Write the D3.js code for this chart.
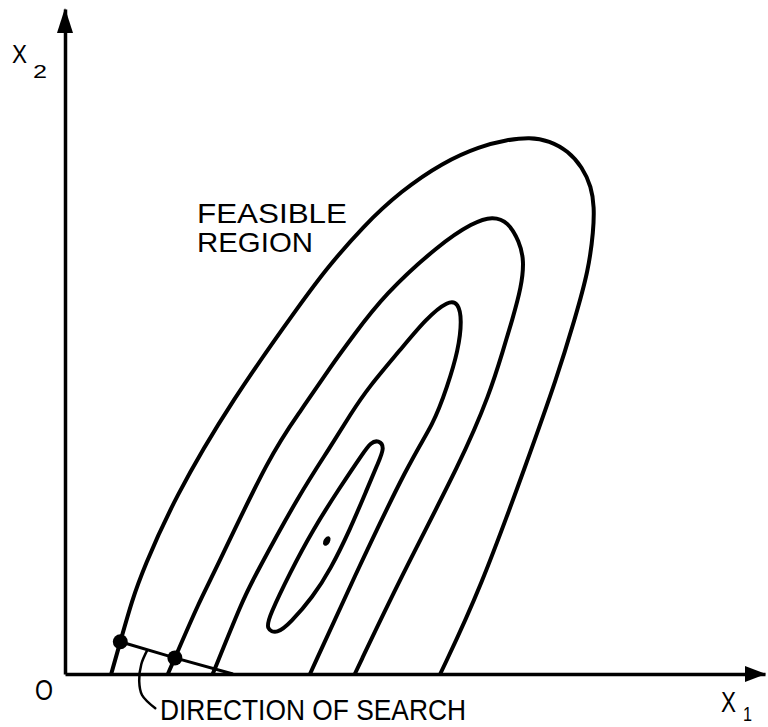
<!DOCTYPE html>
<html>
<head>
<meta charset="utf-8">
<script src="https://cdn.jsdelivr.net/npm/d3@7"></script>
<style>
  html, body { margin: 0; padding: 0; background: #fff; }
  svg { display: block; }
  text { font-family: "Liberation Sans", Arial, sans-serif; fill: #000; }
</style>
</head>
<body>
<svg id="chart" width="768" height="727"></svg>
<script>
// Design space x1 (horizontal) and x2 (vertical), arbitrary units.
const xDomain = [0, 100];
const yDomain = [0, 95];

// Objective contours, outermost (feasible region boundary) inward.
// Open contours run from their left foot on the x1 axis to the right foot.
const contourOuter = [
  [6.6, 0], [7.9, 4.6], [9.6, 10.6], [11.2, 15.0], [15.5, 24.9], [23.8, 39.1],
  [34.0, 53.4], [37.2, 57.7], [42.6, 64.0], [48.0, 69.0], [54.0, 73.1], [59.3, 75.4],
  [63.1, 76.3], [66.4, 76.7], [69.2, 76.2], [71.9, 74.7], [73.9, 72.4],
  [75.2, 69.6], [75.6, 66.7], [75.5, 63.4], [74.8, 57.7], [72.8, 50.6],
  [70.3, 42.4], [66.1, 30.6], [59.3, 12.0], [53.6, 0]
];
const contourSecond = [
  [14.7, 0], [15.7, 2.3], [19.3, 10.6], [21.1, 14.0], [29.4, 31.6], [33.7, 37.6],
  [38.0, 44.0], [41.1, 48.2], [45.6, 54.2], [53.5, 61.4], [58.3, 64.5],
  [61.1, 65.4], [63.3, 64.6], [64.9, 61.8], [65.6, 59.1], [65.2, 55.3],
  [63.9, 50.6], [62.6, 46.3], [60.7, 40.1], [56.7, 30.6], [48.0, 13.9], [41.4, 0]
];
const contourThird = [
  [21.1, 0], [25.4, 10.6], [26.9, 13.6], [33.6, 25.9], [37.9, 32.4], [40.9, 37.3],
  [43.4, 41.0], [47.9, 46.3], [51.6, 50.8], [54.8, 53.4], [56.2, 53.0],
  [56.7, 50.6], [56.2, 46.3], [54.6, 41.0], [52.6, 35.6], [49.3, 30.6],
  [41.1, 13.4], [35.0, 0]
];
// Innermost closed contour (clockwise from its upper tip).
const contourInner = [
  [44.8, 33.4], [45.7, 32.4], [44.7, 30.1], [43.1, 26.3], [40.7, 20.6],
  [37.9, 14.9], [35.4, 11.0], [32.2, 7.3], [30.3, 5.7], [28.7, 6.4],
  [29.2, 8.3], [32.1, 14.4], [35.4, 20.6], [39.3, 26.7], [42.6, 31.6], [43.7, 33.1]
];
// Optimum.
const optimum = [37.4, 19.0];

// Search points and the search direction through them.
const searchPoints = [[7.9, 4.6], [15.7, 2.3]];
const searchLine = [[7.9, 4.6], [15.7, 2.3], [24.0, 0]];
// Leader from the "DIRECTION OF SEARCH" caption to the search line.
const searchLeader = [[12.9, -4.9], [11.0, -3.0], [10.6, -1.0], [10.9, 1.4], [11.7, 3.3]];

const svg = d3.select("#chart");
const x = d3.scaleLinear().domain(xDomain).range([65, 765]);
const y = d3.scaleLinear().domain(yDomain).range([674, 9]);

const smooth = d3.line().x(d => x(d[0])).y(d => y(d[1])).curve(d3.curveBasis);
const smoothClosed = d3.line().x(d => x(d[0])).y(d => y(d[1])).curve(d3.curveBasisClosed);
const leaderCurve = d3.line().x(d => x(d[0])).y(d => y(d[1])).curve(d3.curveCatmullRom.alpha(0.5));
const straight = d3.line().x(d => x(d[0])).y(d => y(d[1]));

// Axes (no ticks), drawn from the scales.
const xAxis = d3.axisBottom(x).tickValues([]).tickSizeOuter(0);
const yAxis = d3.axisLeft(y).tickValues([]).tickSizeOuter(0);
const gx = svg.append("g").attr("transform", `translate(0,${y(0)})`).call(xAxis);
const gy = svg.append("g").attr("transform", `translate(${x(0)},0)`).call(yAxis);
[gx, gy].forEach(g => g.select(".domain").attr("stroke", "#000").attr("stroke-width", 3.5));

// Arrowheads at the ends of the axes.
const xEnd = x(xDomain[1]), yEnd = y(yDomain[1]);
svg.append("path")
  .attr("d", `M${xEnd + 1},${y(0)} L${xEnd - 20},${y(0) - 8} L${xEnd - 20},${y(0) + 8} Z`)
  .attr("fill", "#000");
svg.append("path")
  .attr("d", `M${x(0)},${yEnd - 1} L${x(0) - 8},${yEnd + 24} L${x(0) + 8},${yEnd + 24} Z`)
  .attr("fill", "#000");

// Contours.
const contourStyle = sel => sel.attr("fill", "none").attr("stroke", "#000")
  .attr("stroke-width", 4).attr("stroke-linejoin", "round").attr("stroke-linecap", "round");
[contourOuter, contourSecond, contourThird].forEach(c => {
  svg.append("path").attr("d", smooth(c)).call(contourStyle);
});
svg.append("path").attr("d", smoothClosed(contourInner)).call(contourStyle);

// Optimum mark.
svg.append("ellipse")
  .attr("cx", x(optimum[0])).attr("cy", y(optimum[1]))
  .attr("rx", 3.2).attr("ry", 5.2)
  .attr("transform", `rotate(28,${x(optimum[0])},${y(optimum[1])})`)
  .attr("fill", "#000");

// Search direction.
svg.append("path").attr("d", straight(searchLine))
  .attr("fill", "none").attr("stroke", "#000").attr("stroke-width", 3);
svg.selectAll("circle.search").data(searchPoints).join("circle")
  .attr("class", "search")
  .attr("cx", d => x(d[0])).attr("cy", d => y(d[1])).attr("r", 7.5)
  .attr("fill", "#000");
svg.append("path").attr("d", leaderCurve(searchLeader))
  .attr("fill", "none").attr("stroke", "#000").attr("stroke-width", 2.5)
  .attr("stroke-linecap", "round");

// Labels.
const label = (t, px, py, size, len) => svg.append("text")
  .attr("x", px).attr("y", py).attr("font-size", size)
  .attr("textLength", len).attr("lengthAdjust", "spacingAndGlyphs").text(t);

label("FEASIBLE", 197, 223, 28, 150);
label("REGION", 197, 252, 28, 116);
label("DIRECTION OF SEARCH", 160, 720, 30, 306);
label("O", 35, 700, 30, 18);
label("X", 12, 63, 25, 15);
label("2", 33, 78, 18, 14);
label("X", 721, 712, 30, 15);
label("1", 743, 721, 21, 9);
</script>
</body>
</html>
